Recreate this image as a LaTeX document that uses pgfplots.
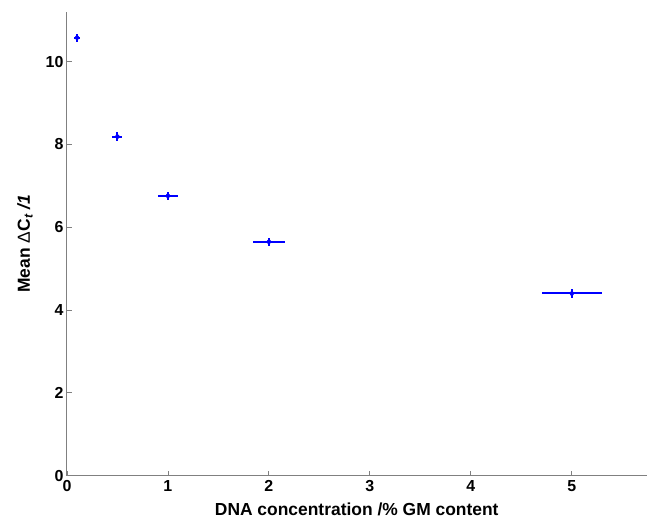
\documentclass[border=0pt]{standalone}
\usepackage{fontspec}
\setmainfont{Liberation Sans}
\usepackage{pgfplots}
\pgfplotsset{compat=1.18}
\begin{document}
\begin{tikzpicture}
\begin{axis}[
  scale only axis, width=580bp, height=464bp,
  xmin=0, xmax=5.74, ymin=0, ymax=11.2,
  axis lines=left, axis line style={-, draw=gray, line width=1pt},
  tick align=inside, major tick length=5bp,
  tick style={draw=gray, line width=0.8pt},
  xtick={0,1,2,3,4,5}, ytick={0,2,4,6,8,10},
  tick label style={font=\fontsize{16}{16}\selectfont\bfseries},
  xticklabel style={yshift=-1bp},
  /pgf/number format/assume math mode=true,
  xlabel={DNA concentration /\% GM content},
  ylabel={Mean {\mdseries Δ}C\textsubscript{\itshape t} {\itshape /1}},
  label style={font=\fontsize{17.5}{17.5}\selectfont\bfseries},
  xlabel style={at={(axis description cs:0.5,0)}, anchor=base, yshift=-40bp},
  ylabel style={at={(axis description cs:0,0.5)}, anchor=center, yshift=42bp},
  clip=false,
]
\addplot[blue, only marks, mark=none,
  error bars/.cd, x dir=both, x explicit, y dir=both, y explicit,
  error mark=none, error bar style={blue, line width=2bp}]
  table[x=x, y=y, x error=ex, y error=ey] {
x    y     ex    ey
0.1  10.58 0.03  0.1
0.5  8.19  0.05  0.1
1    6.76  0.1   0.1
2    5.65  0.16  0.1
5    4.40  0.3   0.1
};
\end{axis}
\path[use as bounding box] (-67bp,-42bp) rectangle (580bp,476bp);
\end{tikzpicture}
\end{document}
